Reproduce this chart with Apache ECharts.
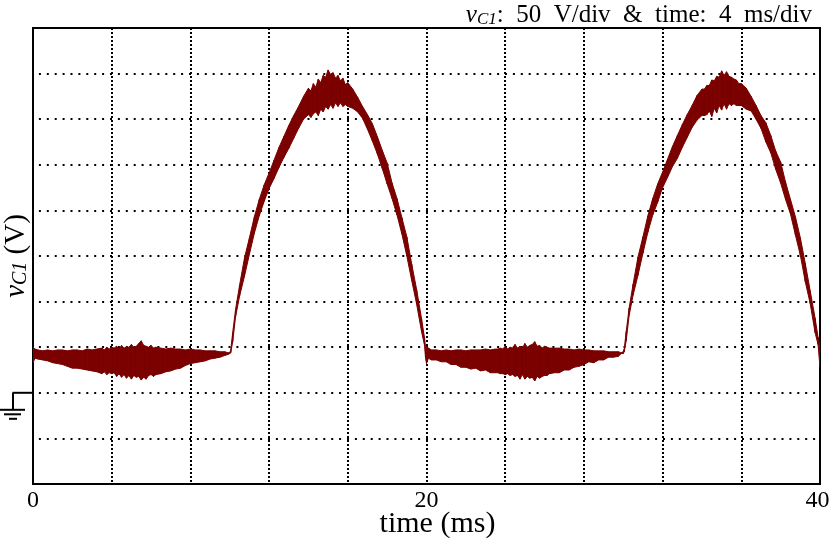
<!DOCTYPE html>
<html>
<head>
<meta charset="utf-8">
<style>html,body{margin:0;padding:0;background:#fff}#c{width:830px;height:542px}</style>
<script src="https://cdn.jsdelivr.net/npm/echarts@6/dist/echarts.min.js"></script>
</head>
<body>
<div id="c"></div>
<script>
const periodOneTimes = [0,0.1,0.25,0.5,0.75,1,1.25,1.5,1.75,2,
2.25,2.5,2.75,3,3.25,3.5,3.625,3.75,3.875,4,
4.125,4.25,4.375,4.5,4.625,4.75,4.875,5,5.125,5.25,
5.375,5.5,5.625,5.75,5.875,6,6.125,6.25,6.5,6.75,
7,7.25,7.5,7.75,8,8.25,8.5,8.75,9,9.25,
9.5,9.75,9.9,10,
10.05,10.15,10.3,10.5,10.75,11,11.25,11.5,11.75,12,
12.25,12.5,12.75,13,13.25,13.5,13.75,14,14.125,14.25,
14.375,14.5,14.625,14.75,14.875,15,15.125,15.25,15.375,15.5,
15.625,15.75,15.875,16,16.25,16.5,16.75,17,17.25,17.5,
17.75,18,18.25,18.5,18.75,19,19.25,19.5,19.75,19.9,
19.95];
const periodTwoTimes = [20,20.1,20.25,20.5,20.75,21,21.25,21.5,21.75,22,
22.25,22.5,22.75,23,23.25,23.5,23.625,23.75,23.875,24,
24.125,24.25,24.375,24.5,24.625,24.75,24.875,25,25.125,25.25,
25.375,25.5,25.625,25.75,25.875,26,26.125,26.25,26.5,26.75,
27,27.25,27.5,27.75,28,28.25,28.5,28.75,29,29.25,
29.5,29.75,29.9,30,
30.05,30.15,30.3,30.5,30.75,31,31.25,31.5,31.75,32,
32.25,32.5,32.75,33,33.25,33.5,33.75,34,34.125,34.25,
34.375,34.5,34.625,34.75,34.875,35,35.125,35.25,35.375,35.5,
35.625,35.75,35.875,36,36.25,36.5,36.75,37,37.25,37.5,
37.75,38,38.25,38.5,38.75,39,39.25,39.5,39.75,39.9,
40];
const upperOne = [50,48,47,46,47,46,47,47,46,47,
47,46,48,47,48,49,47,50,48,50,
49,51,48,52,49,50,50,53,50,51,
54,57,52,51,50,52,49,50,49,48,
49,48,48,47,48,47,47,46,46,46,
45,45,44,44,
47,66,92,118,148,170,193,212,228,241,
255,269,281,293,304,314,325,334,331,339,
335,344,340,348,346,354,349,351,345,348,
342,345,338,340,333,324,314,305,295,281,
266,252,230,213,192,171,141,113,81,60,
50];
const lowerOne = [33,38,37,36,35,33,32,31,29,27,
27,26,25,24,23,21,23,20,22,21,
22,18,21,17,20,16,19,15,19,17,
18,14,17,15,19,20,18,20,21,23,
24,26,27,30,32,33,34,35,37,38,
39,41,42,43,
44,56,84,106,128,152,175,194,210,224,
235,247,258,268,279,290,300,305,302,306,
308,304,311,308,314,311,316,312,318,314,
318,314,316,314,312,308,301,289,276,262,
246,229,213,195,174,150,123,97,67,52,
38];
const upperTwo = [51,49,47,47,46,47,46,47,47,46,
47,47,47,48,47,48,48,49,48,51,
48,50,49,53,49,51,49,54,50,52,
53,56,51,52,49,51,50,49,49,49,
48,48,47,48,47,47,46,46,46,45,
45,45,44,45,
48,67,93,119,149,171,194,213,229,242,
256,270,282,294,305,315,326,333,333,337,
337,343,342,347,346,353,348,352,347,346,
344,343,339,339,334,325,315,304,296,282,
265,253,231,212,193,170,142,112,82,61,
52];
const lowerTwo = [32,38,36,36,34,34,31,31,28,28,
26,27,24,25,22,22,22,21,21,20,
21,19,20,18,19,15,20,15,18,16,
17,13,18,16,18,19,19,21,22,22,
25,25,28,29,31,34,33,36,36,39,
39,40,43,43,
45,57,85,107,129,153,176,195,209,225,
236,248,257,269,280,291,299,304,304,305,
309,303,312,307,315,310,317,311,317,315,
317,315,315,315,311,309,300,290,275,263,
245,230,212,196,173,151,122,98,66,53,
28];

const timeValues = periodOneTimes.concat(periodTwoTimes);
const upperValues = upperOne.concat(upperTwo);
const lowerValues = lowerOne.concat(lowerTwo);
const tickLabels = {0:'0',20:'20',40:'{r|40}'};
const waveColor = '#7b0000';
const serif = '"Liberation Serif","DejaVu Serif",serif';

const chart = echarts.init(document.getElementById('c'), null, {renderer:'canvas'});
chart.setOption({
  animation:false,
  backgroundColor:'#fff',
  title:{
    right:13, top:-2,
    text:'{v|v}{s|C1}{t|:  50  V/div  &  time:  4  ms/div}',
    textStyle:{
      fontFamily:serif,fontWeight:'normal',
      rich:{
        v:{fontFamily:serif,fontStyle:'italic',fontWeight:'normal',fontSize:25,color:'#000'},
        s:{fontFamily:serif,fontStyle:'italic',fontWeight:'normal',fontSize:17,color:'#000',verticalAlign:'bottom',lineHeight:22},
        t:{fontFamily:serif,fontWeight:'normal',fontSize:25,color:'#000'}
      }
    }
  },
  grid:{left:33,right:10,top:28,bottom:58,show:true,borderColor:'#000',borderWidth:2,backgroundColor:'#fff',outerBoundsMode:'none'},
  xAxis:{
    type:'value',min:0,max:40,interval:4,
    name:'time (ms)',nameLocation:'middle',nameGap:25,nameMoveOverlap:false,
    nameTextStyle:{fontFamily:serif,fontSize:30,color:'#000',padding:[0,0,0,22]},
    axisLine:{show:false},axisTick:{show:false},
    axisLabel:{margin:5,fontFamily:serif,fontSize:24,color:'#000',hideOverlap:false,showMinLabel:true,showMaxLabel:true,
      rich:{r:{fontFamily:serif,fontSize:24,color:'#000',padding:[0,5,0,0]}},
      formatter:v=>tickLabels[v]||''},
    splitLine:{show:true,showMinLine:false,showMaxLine:false,lineStyle:{color:'#000',width:2,type:[2,2]}}
  },
  yAxis:{
    type:'value',min:-100,max:400,interval:50,
    name:'{v|v}{s|C1}{t| (V)}',nameLocation:'middle',nameGap:2,nameRotate:90,nameMoveOverlap:false,
    nameTextStyle:{
      fontFamily:serif,
      rich:{
        v:{fontFamily:serif,fontStyle:'italic',fontSize:29,color:'#000'},
        s:{fontFamily:serif,fontStyle:'italic',fontSize:20,color:'#000',verticalAlign:'bottom',lineHeight:26},
        t:{fontFamily:serif,fontSize:29,color:'#000'}
      }
    },
    axisLine:{show:false},axisTick:{show:false},axisLabel:{show:false},
    splitLine:{show:true,showMinLine:false,showMaxLine:false,lineStyle:{color:'#000',width:2,type:[2,5.9],dashOffset:2}}
  },
  series:[{
    type:'custom',silent:true,clip:true,
    encode:{x:0,y:[1,2]},
    data:timeValues.map((t,i)=>[t,lowerValues[i],upperValues[i]]),
    renderItem:function(params,api){
      const i=params.dataIndex;
      if(i>=timeValues.length-1) return null;
      const p=[api.coord([timeValues[i],lowerValues[i]]),api.coord([timeValues[i+1],lowerValues[i+1]]),
               api.coord([timeValues[i+1],upperValues[i+1]]),api.coord([timeValues[i],upperValues[i]])];
      return {type:'polygon',shape:{points:p},style:{fill:waveColor,stroke:waveColor,lineWidth:1}};
    }
  }]
});

// ground symbol anchored to the 0 V level on the y axis
const gy = chart.convertToPixel({yAxisIndex:0},0);
const gx = chart.convertToPixel({xAxisIndex:0},0);
const seg = (x1,y1,x2,y2,w)=>({type:'line',silent:true,shape:{x1,y1,x2,y2},style:{stroke:'#000',lineWidth:w||2}});
chart.setOption({graphic:[
  seg(gx,gy,gx-20.5,gy),
  seg(gx-20,gy,gx-20,gy+17),
  seg(gx-33,gy+17,gx-8,gy+17),
  seg(gx-29,gy+21.5,gx-12,gy+21.5),
  seg(gx-24,gy+26,gx-16,gy+26)
]});
</script>
</body>
</html>
